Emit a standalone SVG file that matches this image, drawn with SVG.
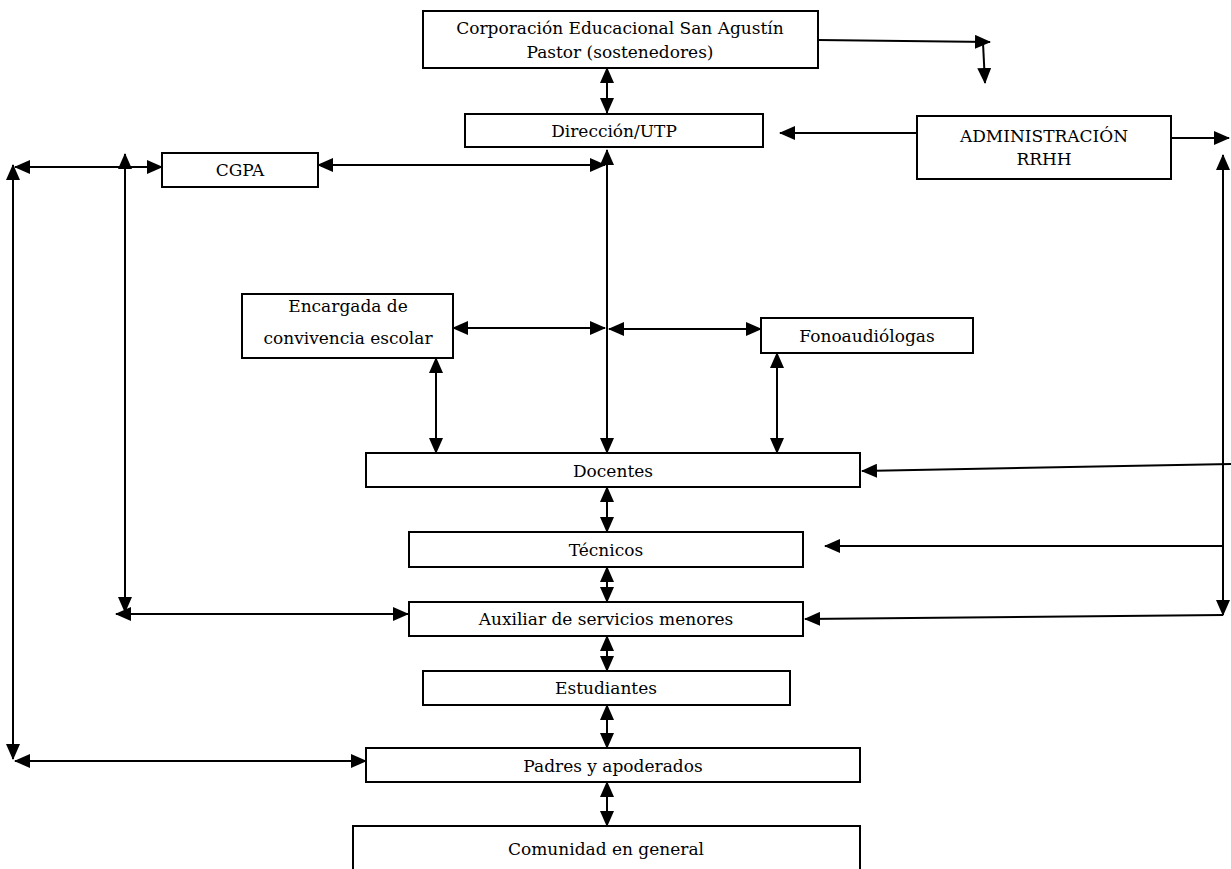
<svg xmlns="http://www.w3.org/2000/svg" width="1231" height="869" viewBox="0 0 1231 869">
<style>
.box{fill:#fff;stroke:#000;stroke-width:2}
.t{font-family:"DejaVu Serif","Liberation Serif",serif;font-size:17px;fill:#000;text-anchor:middle}
.c{fill:none;stroke:#000;stroke-width:2}
.e{marker-end:url(#ah)}
.b{marker-start:url(#ah);marker-end:url(#ah)}
</style>
<defs>
<marker id="ah" markerUnits="userSpaceOnUse" markerWidth="16" markerHeight="14" viewBox="0 0 16 14" refX="15" refY="7" orient="auto-start-reverse">
<path d="M0,0 L16,7 L0,14 z" fill="#000"/>
</marker>
</defs>
<rect width="1231" height="869" fill="#fff"/>
<g id="connectors">
<path class="c e" d="M818,40 L990,42"/>
<path class="c e" d="M983,43 L985,83"/>
<path class="c b" d="M607,68 L607,113"/>
<path class="c e" d="M917,133 L780,133"/>
<path class="c e" d="M1171,138 L1229,138"/>
<path class="c b" d="M1223,155 L1223,615"/>
<path class="c e" d="M1231,464 L862,471"/>
<path class="c e" d="M1223,546 L825,546"/>
<path class="c e" d="M1223,615 L805,619"/>
<path class="c b" d="M318,165 L605,165"/>
<path class="c b" d="M607,150 L607,453"/>
<path class="c b" d="M15,167 L162,167"/>
<path class="c b" d="M13,165 L13,759"/>
<path class="c b" d="M15,761 L366,761"/>
<path class="c b" d="M125,154 L125,612"/>
<path class="c b" d="M116,614 L408,614"/>
<path class="c b" d="M453,328 L605,328"/>
<path class="c b" d="M609,329 L761,329"/>
<path class="c b" d="M436,358 L436,453"/>
<path class="c b" d="M777,353 L777,453"/>
<path class="c b" d="M607,487 L607,532"/>
<path class="c b" d="M607,567 L607,602"/>
<path class="c b" d="M607,636 L607,671"/>
<path class="c b" d="M607,705 L607,748"/>
<path class="c b" d="M607,782 L607,826"/>
</g>
<g id="corp"><rect class="box" x="423" y="11" width="395" height="57"/>
<text class="t" x="620" y="34">Corporación Educacional San Agustín</text>
<text class="t" x="620" y="58">Pastor (sostenedores)</text></g>
<g id="direccion"><rect class="box" x="465" y="114" width="298" height="33"/>
<text class="t" x="614" y="137">Dirección/UTP</text></g>
<g id="admin"><rect class="box" x="917" y="116" width="254" height="63"/>
<text class="t" x="1044" y="142">ADMINISTRACIÓN</text>
<text class="t" x="1044" y="165">RRHH</text></g>
<g id="cgpa"><rect class="box" x="162" y="153" width="156" height="34"/>
<text class="t" x="240" y="176">CGPA</text></g>
<g id="encargada"><rect class="box" x="242" y="294" width="211" height="64"/>
<text class="t" x="348" y="312">Encargada de</text>
<text class="t" x="348" y="344">convivencia escolar</text></g>
<g id="fono"><rect class="box" x="761" y="318" width="212" height="35"/>
<text class="t" x="867" y="342">Fonoaudiólogas</text></g>
<g id="docentes"><rect class="box" x="366" y="453" width="494" height="34"/>
<text class="t" x="613" y="477">Docentes</text></g>
<g id="tecnicos"><rect class="box" x="409" y="532" width="394" height="35"/>
<text class="t" x="606" y="556">Técnicos</text></g>
<g id="auxiliar"><rect class="box" x="409" y="602" width="394" height="34"/>
<text class="t" x="606" y="625">Auxiliar de servicios menores</text></g>
<g id="estudiantes"><rect class="box" x="423" y="671" width="367" height="34"/>
<text class="t" x="606" y="694">Estudiantes</text></g>
<g id="padres"><rect class="box" x="366" y="748" width="494" height="34"/>
<text class="t" x="613" y="772">Padres y apoderados</text></g>
<g id="comunidad"><rect class="box" x="353" y="826" width="507" height="60"/>
<text class="t" x="606" y="855">Comunidad en general</text></g>
</svg>
